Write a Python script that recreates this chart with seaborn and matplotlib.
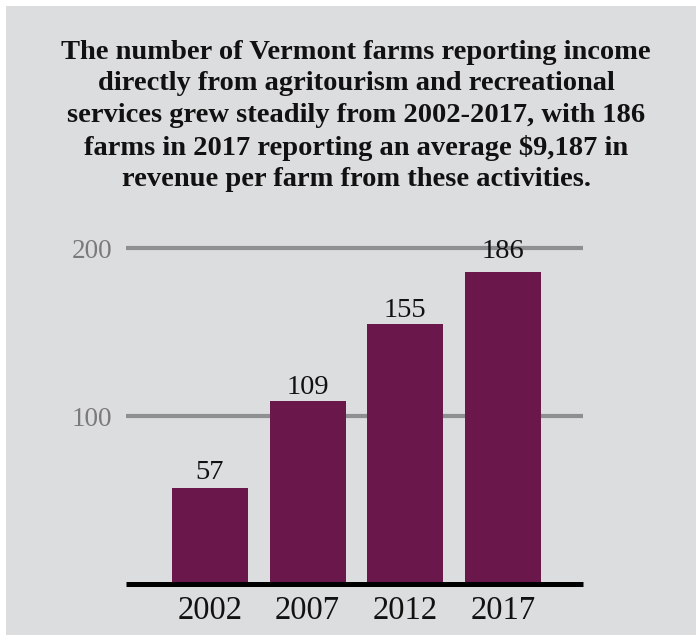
import matplotlib
matplotlib.use("Agg")
import matplotlib.pyplot as plt
import seaborn as sns
import pandas as pd
from matplotlib.patches import Rectangle

years = ["2002", "2007", "2012", "2017"]
farms = [57, 109, 155, 186]
yticks = [100, 200]
title = ("The number of Vermont farms reporting income\n"
         "directly from agritourism and recreational\n"
         "services grew steadily from 2002-2017, with 186\n"
         "farms in 2017 reporting an average $9,187 in\n"
         "revenue per farm from these activities.")

BG = "#dcdddf"
BAR = "#6a184b"
GRID = "#8e8f90"
label_gap_px = [9, 7, 7, 14]

sns.set_theme(style="white")
plt.rcParams["font.family"] = ["Liberation Serif", "DejaVu Serif"]

df = pd.DataFrame({"year": years, "farms": farms})

fig = plt.figure(figsize=(6.96, 6.35), dpi=100, facecolor="white")
fig.patches.append(Rectangle((6/696, 0), 1, (635-6)/635, transform=fig.transFigure,
                             facecolor=BG, edgecolor="none", zorder=-10))

ax = fig.add_axes([126/696, 51/635, (583-126)/696, (395.4-51)/635])
ax.set_facecolor("none")
sns.barplot(data=df, x="year", y="farms", color=BAR, saturation=1, width=0.78,
            linewidth=0, edgecolor="none", ax=ax, zorder=3)

for p, v, g in zip(ax.patches, farms, label_gap_px):
    ax.annotate(str(v), (p.get_x() + p.get_width()/2, v), xytext=(0, g*0.72),
                textcoords="offset points", ha="center", va="baseline",
                fontsize=20.5, color="#111111", zorder=5)

for t in yticks:
    ax.axhline(t, color=GRID, lw=3.0, zorder=1, solid_capstyle="butt")
ax.axhline(0, color="black", lw=3.6, zorder=4, clip_on=False, solid_capstyle="butt")

ax.set_xlim(-0.86, 3.82)
ax.set_ylim(0, 205)
ax.set_yticks(yticks)
ax.set_yticklabels([str(t) for t in yticks], fontsize=19.5, color="#7a7a7a")
ax.tick_params(axis="y", length=0, pad=10)
ax.tick_params(axis="x", length=0, pad=8, labelsize=23.5, labelcolor="#111111")
ax.set_xlabel("")
ax.set_ylabel("")
for s in ax.spines.values():
    s.set_visible(False)

fig.text(356/696, 1 - 40/635, title, ha="center", va="top", fontsize=20.5,
         fontweight="bold", color="#111111", linespacing=1.34)

fig.savefig("out.png", dpi=100, facecolor="white")
